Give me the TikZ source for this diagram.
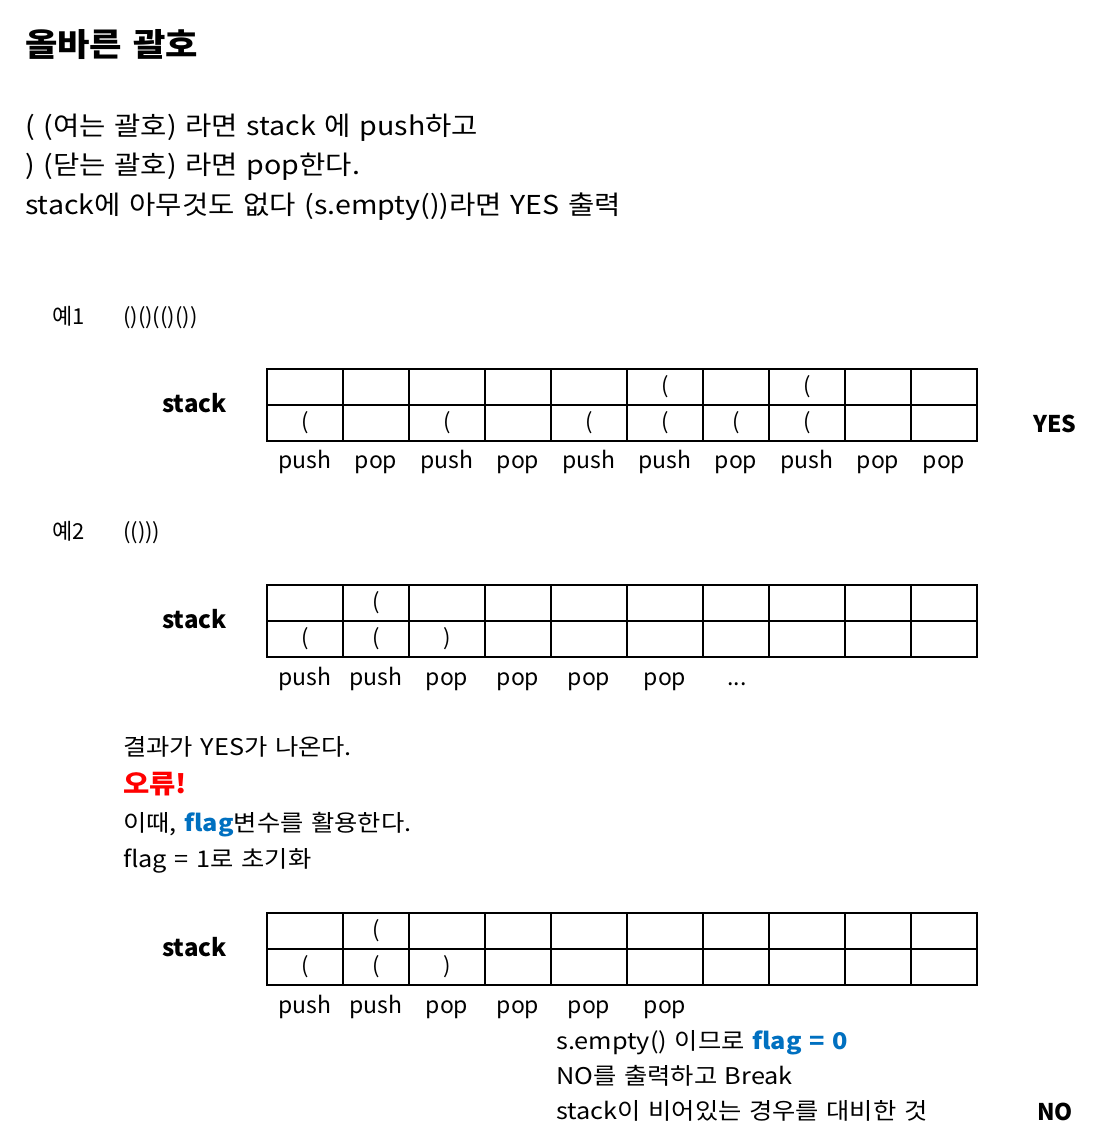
\documentclass[tikz,border=0pt]{standalone}
\usepackage{fontspec}
\setmainfont{Noto Sans CJK KR}
\newfontfamily\krwide{Noto Sans CJK KR}[FakeStretch=1.1, WordSpace=1.35]
\definecolor{errred}{RGB}{255,0,0}
\definecolor{flagblue}{RGB}{0,112,192}

\tikzset{
  title/.style={anchor=base west, inner sep=0pt, font=\krwide\fontsize{32}{36}\selectfont\bfseries},
  txt/.style={anchor=base west, inner sep=0pt, font=\krwide\fontsize{26}{30}\selectfont},
  note/.style={anchor=base west, inner sep=0pt, font=\krwide\fontsize{23}{27}\selectfont},
  small/.style={anchor=base west, inner sep=0pt, font=\fontsize{22}{26}\selectfont},
  stk/.style={anchor=base west, inner sep=0pt, font=\fontsize{24}{28}\selectfont\bfseries},
  lbl/.style={anchor=base, inner sep=0pt, font=\fontsize{23}{27}\selectfont},
  cell/.style={inner sep=0pt, font=\fontsize{22}{26}\selectfont},
  answer/.style={anchor=base, inner sep=0pt, font=\fontsize{23}{27}\selectfont\bfseries},
  grid/.style={line width=1.6pt},
}

\begin{document}
\begin{tikzpicture}[x=1pt,y=-1pt]
  \useasboundingbox (0,0) rectangle (1102,1146);

  % heading and rules
  \node[title] (head) at (25,56) {올바른 괄호};
  \node[txt] (rule1) at (25,135) {( (여는 괄호) 라면 stack 에 push하고};
  \node[txt] (rule2) at (25,174) {) (닫는 괄호) 라면 pop한다.};
  \node[txt] (rule3) at (25,214) {stack에 아무것도 없다 (s.empty())라면 YES 출력};

  % examples
  \node[small] (ex1) at (52,324) {예1};
  \node[small] (ex1str) at (123,324) {()()(()())};
  \node[small] (ex2) at (52,539) {예2};
  \node[small] (ex2str) at (123,539) {(()))};

  % three stack tables
  \foreach \t/\ty in {a/369, b/585, c/913} {
    \draw[grid] (267,\ty) rectangle (977,\ty+72);
    \draw[grid] (267,\ty+36) -- (977,\ty+36);
    \foreach \cx in {343,409,485,551,627,703,769,845,911}
      \draw[grid] (\cx,\ty) -- (\cx,\ty+72);
    \node[stk] (stack-\t) at (162,\ty+43) {stack};
  }

  % contents of table a
  \foreach \n/\cx/\cy in {1/305/423, 3/447/423, 5/589/423, 6/665/423,
                          7/736/423, 8/807/423, 6/665/387, 8/807/387}
    \node[cell] (a-\n-\cy) at (\cx,\cy) {(};
  \foreach \n/\cx/\op in {1/305/push, 2/376/pop, 3/447/push, 4/518/pop, 5/589/push,
                          6/665/push, 7/736/pop, 8/807/push, 9/878/pop, 10/944/pop}
    \node[lbl] (a-op\n) at (\cx,468) {\op};
  \node[answer] (yes) at (1055,432) {YES};

  % contents of tables b and c
  \foreach \t/\dy in {b/0, c/328} {
    \node[cell] (\t-top) at (376,603+\dy) {(};
    \node[cell] (\t-c1) at (305,639+\dy) {(};
    \node[cell] (\t-c2) at (376,639+\dy) {(};
    \node[cell] (\t-c3) at (447,639+\dy) {)};
    \foreach \n/\cx/\op in {1/305/push, 2/376/push, 3/447/pop, 4/518/pop, 5/589/pop, 6/665/pop}
      \node[lbl] (\t-op\n) at (\cx,685+\dy) {\op};
  }
  \node[lbl] (b-more) at (737,685) {...};

  % explanation
  \node[note] (res) at (123,755) {결과가 YES가 나온다.};
  \node[note, font=\krwide\fontsize{26}{30}\selectfont\bfseries, text=errred] (err) at (123,793) {오류!};
  \node[note] (use) at (123,831) {이때, \textcolor{flagblue}{\bfseries flag}변수를 활용한다.};
  \node[note] (init) at (123,867) {flag = 1로 초기화};

  \node[note] (note1) at (556,1049) {s.empty() 이므로 \textcolor{flagblue}{\bfseries flag = 0}};
  \node[note] (note2) at (556,1084) {NO를 출력하고 Break};
  \node[note] (note3) at (556,1119) {stack이 비어있는 경우를 대비한 것};
  \node[answer] (no) at (1055,1120) {NO};
\end{tikzpicture}
\end{document}
